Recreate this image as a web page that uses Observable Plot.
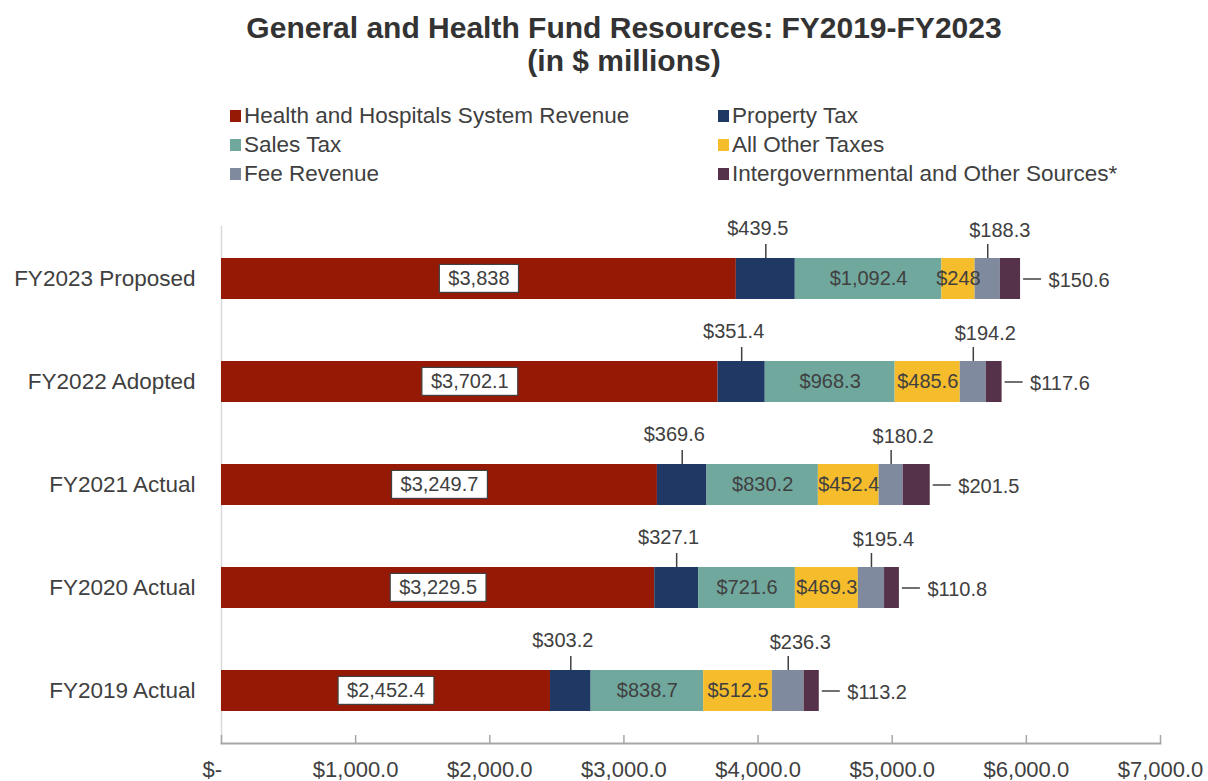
<!DOCTYPE html>
<html>
<head>
<meta charset="utf-8">
<script src="https://cdn.jsdelivr.net/npm/d3@7"></script>
<script src="https://cdn.jsdelivr.net/npm/@observablehq/plot@0.6"></script>
<style>
  html, body { margin: 0; padding: 0; background: #fff; }
  body { width: 1208px; height: 781px; overflow: hidden; font-family: "Liberation Sans", Arial, sans-serif; color: #404040; }
  #header { position: relative; width: 1208px; height: 200px; }
  #title { position: absolute; left: 40px; top: 11px; width: 1168px; text-align: center; font-weight: bold; font-size: 30px; line-height: 33px; color: #333; }
  .leg { position: absolute; font-size: 22.5px; line-height: 22px; white-space: nowrap; color: #404040; }
  .sw { position: absolute; width: 11px; height: 12px; }
</style>
</head>
<body>
<div id="header">
  <div id="title">General and Health Fund Resources: FY2019-FY2023<br>(in $ millions)</div>
</div>
<div id="chart"></div>
<script>
const categories = ["FY2023 Proposed", "FY2022 Adopted", "FY2021 Actual", "FY2020 Actual", "FY2019 Actual"];
const seriesNames = ["Health and Hospitals System Revenue", "Property Tax", "Sales Tax", "All Other Taxes", "Fee Revenue", "Intergovernmental and Other Sources*"];
const healthRevenue = [3838, 3702.1, 3249.7, 3229.5, 2452.4];
const propertyTax = [439.5, 351.4, 369.6, 327.1, 303.2];
const salesTax = [1092.4, 968.3, 830.2, 721.6, 838.7];
const otherTaxes = [248, 485.6, 452.4, 469.3, 512.5];
const feeRevenue = [188.3, 194.2, 180.2, 195.4, 236.3];
const intergovernmental = [150.6, 117.6, 201.5, 110.8, 113.2];
const xTicks = [0, 1000, 2000, 3000, 4000, 5000, 6000, 7000];
const colors = ["#961906", "#203864", "#70a89e", "#f5bc2c", "#7f8a9e", "#553249"];

const seriesValues = [healthRevenue, propertyTax, salesTax, otherTaxes, feeRevenue, intergovernmental];

// Legend (HTML) — two columns, three rows
const header = document.getElementById("header");
const legendOrder = [[0, 1], [2, 3], [4, 5]];
legendOrder.forEach((row, r) => {
  row.forEach((si, c) => {
    const left = c === 0 ? 230 : 718;
    const cy = 116 + r * 29;
    const sw = document.createElement("div");
    sw.className = "sw";
    sw.style.left = left + "px";
    sw.style.top = (cy - 6) + "px";
    sw.style.background = colors[si];
    header.appendChild(sw);
    const t = document.createElement("div");
    t.className = "leg";
    t.style.left = (left + 14) + "px";
    t.style.top = (cy - 11) + "px";
    t.textContent = seriesNames[si];
    header.appendChild(t);
  });
});

// Build stacked records
const records = [];
categories.forEach((cat, i) => {
  let acc = 0;
  seriesNames.forEach((s, j) => {
    const v = seriesValues[j][i];
    records.push({cat, series: s, value: v, x1: acc, x2: acc + v, mid: acc + v / 2});
    acc += v;
  });
});
const fmt = d3.format(",");
const money = d => "$" + fmt(d.value);
const bySeries = s => records.filter(d => d.series === seriesNames[s]);

const labelColor = "#404040";

const chart = Plot.plot({
  width: 1208,
  height: 581,
  marginTop: 26,
  marginBottom: 38,
  marginLeft: 221,
  marginRight: 48,
  style: {fontFamily: "'Liberation Sans', Arial, sans-serif", fontSize: "22px", color: labelColor, background: "#fff"},
  x: {domain: [0, 7000]},
  y: {domain: categories, paddingInner: 0.6, paddingOuter: 0.3},
  color: {domain: seriesNames, range: colors},
  marks: [
    Plot.frame({anchor: "left", stroke: "#d9d9d9", strokeWidth: 1.5}),
    Plot.barX(records, {x1: "x1", x2: "x2", y: "cat", fill: "series"}),
    Plot.frame({anchor: "bottom", stroke: "#a6a6a6", strokeWidth: 2}),
    Plot.axisX({ticks: xTicks, tickSize: 8, dy: -8, tickFormat: () => "", stroke: "#a6a6a6", strokeWidth: 1.5, label: null}),
    Plot.axisX({ticks: xTicks, tickSize: 0, tickPadding: 18, label: null, fontSize: 22, fill: labelColor,
      tickFormat: d => d === 0 ? "$-\u00a0\u00a0\u00a0" : "$" + d3.format(",.1f")(d)}),
    Plot.axisY({tickSize: 0, tickPadding: 26, label: null, fontSize: 22.5, fill: labelColor}),
    // Health labels (boxed, post-processed)
    Plot.text(bySeries(0), {x: "mid", y: "cat", text: money, fontSize: 20, fill: labelColor, ariaDescription: "health-label"}),
    // Sales tax and other taxes centered
    Plot.text(bySeries(2), {x: "mid", y: "cat", text: money, fontSize: 20, fill: labelColor}),
    Plot.text(bySeries(3), {x: "mid", y: "cat", text: money, fontSize: 20, fill: labelColor}),
    // Property tax labels above with leader
    Plot.tickX(bySeries(1), {x: "mid", y: "cat", insetTop: -14, insetBottom: 41, stroke: labelColor, strokeWidth: 1.5}),
    Plot.text(bySeries(1), {x: "mid", y: "cat", text: money, dx: -8, dy: -50, fontSize: 20, fill: labelColor}),
    // Fee revenue labels above with leader
    Plot.tickX(bySeries(4), {x: "mid", y: "cat", insetTop: -14, insetBottom: 41, stroke: labelColor, strokeWidth: 1.5}),
    Plot.text(bySeries(4), {x: "mid", y: "cat", text: money, dx: 12, dy: -48, fontSize: 20, fill: labelColor}),
    // Intergovernmental labels right with leader
    Plot.ruleY(bySeries(5), {y: "cat", x1: "x2", x2: "x2", insetLeft: 3, insetRight: -21, stroke: labelColor, strokeWidth: 1.5}),
    Plot.text(bySeries(5), {x: "x2", y: "cat", text: money, dx: 28, dy: 2, textAnchor: "start", fontSize: 20, fill: labelColor})
  ]
});
document.getElementById("chart").appendChild(chart);

// Add white boxes with border behind health labels
const healthTexts = new Set(bySeries(0).map(money));
chart.querySelectorAll("text").forEach(t => {
  if (!healthTexts.has(t.textContent)) return;
  if (t.closest("[aria-label^='y-axis'], [aria-label^='x-axis']")) return;
  const b = t.getBBox();
  const r = document.createElementNS("http://www.w3.org/2000/svg", "rect");
  r.setAttribute("x", b.x - 9);
  r.setAttribute("y", b.y - 3);
  r.setAttribute("width", b.width + 18);
  r.setAttribute("height", b.height + 6);
  r.setAttribute("fill", "#fff");
  r.setAttribute("stroke", "#404040");
  r.setAttribute("stroke-width", "1.2");
  const tr = t.getAttribute("transform");
  if (tr) r.setAttribute("transform", tr);
  const xa = t.getAttribute("x"), ya = t.getAttribute("y");
  t.parentNode.insertBefore(r, t);
});
</script>
</body>
</html>
